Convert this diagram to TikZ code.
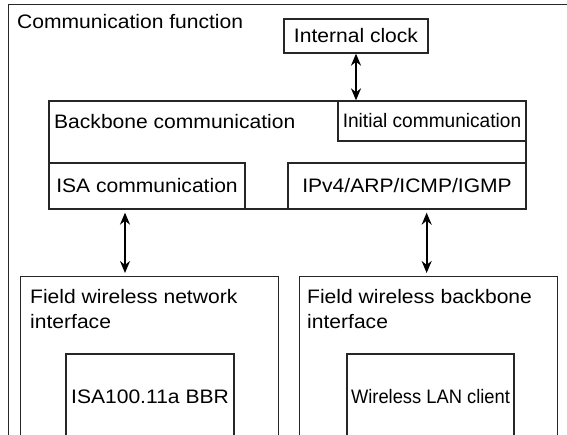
\documentclass[tikz,border=0pt]{standalone}
\usepackage{fontspec}
\setmainfont{Liberation Sans}[FakeStretch=1.08]
\newfontfamily\slimfont{Liberation Sans}[FakeStretch=0.98]
\newfontfamily\narrowfont{Liberation Sans}[FakeStretch=0.94]
\usetikzlibrary{arrows.meta}
\tikzset{>={Stealth[length=12pt,width=10pt]}}
\tikzset{box/.style={draw=black!85, line width=1.3pt, inner sep=0pt},
  lbl/.style={inner sep=0pt},
  arr/.style={<->, line width=2pt}}

\begin{document}
\begin{tikzpicture}[x=1pt,y=-1pt,font=\fontsize{19.5}{25}\selectfont]
\useasboundingbox (0,0) rectangle (567,434);
\clip (0,0) rectangle (567,434);
\node[box, anchor=north west, minimum width=600, minimum height=450] (func) at (8,4) {};
\node[lbl, anchor=base west] (funclbl) at (17,28) {Communication function};
\node[box, minimum width=144, minimum height=34] (clock) at (356,36) {Internal clock};
\node[box, minimum width=477, minimum height=108] (bb) at (287.5,155) {};
\node[lbl, anchor=base west] (bblbl) at (54,128) {Backbone communication};
\node[box, minimum width=188, minimum height=40, font=\fontsize{19.5}{25}\slimfont] (init) at (432,121) {Initial communication};
\node[box, minimum width=196, minimum height=46] (isa) at (147,186) {ISA communication};
\node[box, minimum width=238, minimum height=46] (ipv) at (407,186) {IPv4/ARP/ICMP/IGMP};
\node[box, anchor=north west, minimum width=258, minimum height=170] (fwni) at (20,276) {};
\node[lbl, anchor=north west, align=left] (fwnilbl) at (30,289) {Field wireless network\\interface};
\node[box, anchor=north west, minimum width=258, minimum height=170] (fwbi) at (299,276) {};
\node[lbl, anchor=north west, align=left] (fwbilbl) at (307,289) {Field wireless backbone\\interface};
\node[box, minimum width=168, minimum height=86] (bbr) at (150,397) {ISA100.11a BBR};
\node[box, minimum width=167, minimum height=86, font=\fontsize{19.5}{25}\narrowfont] (wlan) at (430.5,397) {Wireless LAN client};
\draw[arr] (clock) -- (clock |- bb.north);
\draw[arr, shorten <=3pt, shorten >=3pt] ([xshift=-22pt]isa.south) -- ([xshift=-22pt]isa.south |- fwni.north);
\draw[arr, shorten <=3pt, shorten >=3pt] ([xshift=-2pt]fwbi.north) -- ([xshift=-2pt]fwbi.north |- ipv.south);
\end{tikzpicture}
\end{document}
